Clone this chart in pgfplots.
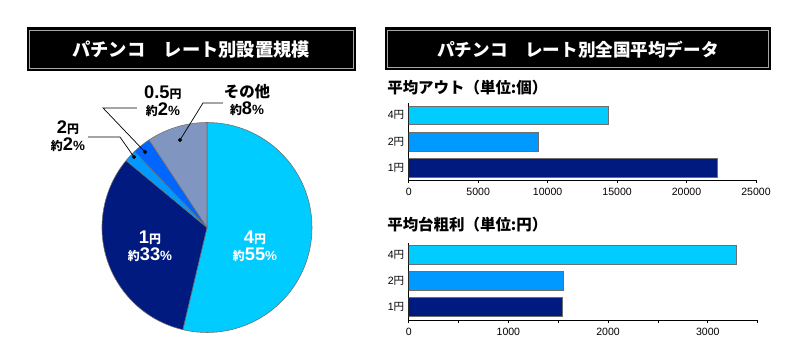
\documentclass[border=0pt]{standalone}
\usepackage{fontspec}
\setmainfont{Noto Sans CJK JP}
\newfontfamily\lat{Liberation Sans}
\usepackage{pgfplots}
\pgfplotsset{compat=1.18}
\usepackage{pgfplotstable}

\definecolor{cFour}{RGB}{0,204,255}
\definecolor{cTwo}{RGB}{0,153,255}
\definecolor{cHalf}{RGB}{0,102,255}
\definecolor{cOne}{RGB}{0,26,128}
\definecolor{cOther}{RGB}{128,150,192}
\definecolor{cEdge}{RGB}{110,110,110}

% pie shares, clockwise from 12 o'clock
\def\pFour{53.7}\def\pOne{32.3}\def\pTwo{1.9}\def\pHalf{2.8}\def\pOther{9.3}

\pgfplotstableread{
y val
0 22200
}\outOne
\pgfplotstableread{
y val
1 9300
}\outTwo
\pgfplotstableread{
y val
2 14400
}\outFour
\pgfplotstableread{
y val
0 1545
}\profOne
\pgfplotstableread{
y val
1 1555
}\profTwo
\pgfplotstableread{
y val
2 3290
}\profFour

\newcommand{\bigtxt}[1]{{\lat\bfseries\fontsize{13}{14}\selectfont #1}}
\newcommand{\sm}[1]{{\bfseries\fontsize{8.5}{9}\selectfont #1}}
\newcommand{\pct}{{\lat\bfseries\fontsize{9.5}{10}\selectfont\%}}

\begin{document}
\begin{tikzpicture}
\useasboundingbox (0,0) rectangle (20cm,9.05cm);

% ---- title boxes
\fill[black] (0.6675cm,7.275cm) rectangle (8.9cm,8.3675cm);
\draw[gray!70, line width=0.5pt] (0.74cm,7.345cm) rectangle (8.83cm,8.295cm);
\node[white, font=\bfseries\fontsize{13}{14}\selectfont] at (4.78cm,7.82cm) {パチンコ　レート別設置規模};

\fill[black] (9.625cm,7.3cm) rectangle (19.27cm,8.3675cm);
\draw[gray!70, line width=0.5pt] (9.695cm,7.37cm) rectangle (19.2cm,8.295cm);
\node[white, font=\bfseries\fontsize{12.5}{14}\selectfont] at (14.45cm,7.82cm) {パチンコ　レート別全国平均データ};

% ---- pie
\pgfmathsetmacro\aA{90}
\pgfmathsetmacro\aB{\aA-3.6*\pFour}
\pgfmathsetmacro\aC{\aB-3.6*\pOne}
\pgfmathsetmacro\aD{\aC-3.6*\pTwo}
\pgfmathsetmacro\aE{\aD-3.6*\pHalf}
\pgfmathsetmacro\aF{\aE-3.6*\pOther}
\begin{axis}[
  at={(1.2375cm,0.475cm)}, anchor=south west,
  scale only axis, width=7.875cm, height=6.694cm,
  xmin=-1.5, xmax=1.5, ymin=-1.1, ymax=1.45,
  hide axis, clip=false]
  \addplot[draw=none] coordinates {(0,0)};
  \filldraw[fill=cFour, draw=cEdge, line width=0.4pt] (axis cs:0,0) -- (axis cs:{cos(\aA)},{sin(\aA)}) arc[start angle=\aA, end angle=\aB, radius=2.625cm] -- cycle;
  \filldraw[fill=cOne, draw=cEdge, line width=0.4pt] (axis cs:0,0) -- (axis cs:{cos(\aB)},{sin(\aB)}) arc[start angle=\aB, end angle=\aC, radius=2.625cm] -- cycle;
  \filldraw[fill=cTwo, draw=cEdge, line width=0.4pt] (axis cs:0,0) -- (axis cs:{cos(\aC)},{sin(\aC)}) arc[start angle=\aC, end angle=\aD, radius=2.625cm] -- cycle;
  \filldraw[fill=cHalf, draw=cEdge, line width=0.4pt] (axis cs:0,0) -- (axis cs:{cos(\aD)},{sin(\aD)}) arc[start angle=\aD, end angle=\aE, radius=2.625cm] -- cycle;
  \filldraw[fill=cOther, draw=cEdge, line width=0.4pt] (axis cs:0,0) -- (axis cs:{cos(\aE)},{sin(\aE)}) arc[start angle=\aE, end angle=\aF, radius=2.625cm] -- cycle;
  % leader lines
  \addplot[black, line width=0.5pt] coordinates {(-0.257,0.833) (-0.038,1.186) (0.152,1.186)};
  \addplot[black, line width=0.5pt] coordinates {(-0.590,0.719) (-0.990,1.138) (-0.667,1.138)};
  \addplot[black, line width=0.5pt] coordinates {(-0.695,0.671) (-0.829,0.862) (-1.133,0.862)};
  \addplot[only marks, mark=*, mark size=1.2pt, black] coordinates {(-0.257,0.833) (-0.590,0.719) (-0.695,0.671)};
  % labels
  \node[inner sep=0pt] at (axis cs:-0.42,1.281) {\bigtxt{0.5}\sm{円}};
  \node[inner sep=0pt] at (axis cs:-0.42,1.119) {\sm{約}\bigtxt{2}\pct};
  \node[inner sep=0pt, font=\bfseries\fontsize{11}{12}\selectfont] at (axis cs:0.381,1.29) {その他};
  \node[inner sep=0pt] at (axis cs:0.381,1.129) {\sm{約}\bigtxt{8}\pct};
  \node[inner sep=0pt] at (axis cs:-1.324,0.948) {\bigtxt{2}\sm{円}};
  \node[inner sep=0pt] at (axis cs:-1.324,0.786) {\sm{約}\bigtxt{2}\pct};
  \node[inner sep=0pt, white] at (axis cs:-0.543,-0.1) {\bigtxt{1}\sm{円}};
  \node[inner sep=0pt, white] at (axis cs:-0.543,-0.262) {\sm{約}\bigtxt{33}\pct};
  \node[inner sep=0pt, white] at (axis cs:0.457,-0.1) {\bigtxt{4}\sm{円}};
  \node[inner sep=0pt, white] at (axis cs:0.457,-0.262) {\sm{約}\bigtxt{55}\pct};
\end{axis}

% ---- subtitles
\node[anchor=west, inner sep=0pt, font=\bfseries\fontsize{11}{12}\selectfont] at (9.675cm,6.85cm) {平均アウト（単位:個）};
\node[anchor=west, inner sep=0pt, font=\bfseries\fontsize{11}{12}\selectfont] at (9.675cm,3.425cm) {平均台粗利（単位:円）};

\pgfplotsset{barstyle/.style={
  scale only axis, axis x line=bottom, axis y line=left,
  axis line style={-, line width=0.7pt},
  xbar, bar shift=0pt, ytick={0,1,2}, yticklabels={{\lat 1}円,{\lat 2}円,{\lat 4}円},
  yticklabel style={font=\fontsize{7.5}{8}\selectfont, inner xsep=1pt},
  xticklabel style={font=\lat\fontsize{7.5}{8}\selectfont},
  /pgf/number format/assume math mode=true,
  /pgf/number format/1000 sep={},
  scaled x ticks=false,
  major tick length=2pt, minor tick length=2pt,
  tick align=outside, tick style={black, line width=0.5pt},
  y tick style={draw=none},
  bar width=0.725, enlargelimits=false}}

\begin{axis}[barstyle,
  at={(10.2175cm,4.55cm)}, anchor=south west,
  width=8.6825cm, height=1.9175cm,
  xmin=0, xmax=25000, ymin=-0.47, ymax=2.46,
  xtick={0,5000,10000,15000,20000,25000}]
  \addplot[draw=cEdge, line width=0.5pt, fill=cOne] table[x=val, y=y] {\outOne};
  \addplot[draw=cEdge, line width=0.5pt, fill=cTwo] table[x=val, y=y] {\outTwo};
  \addplot[draw=cEdge, line width=0.5pt, fill=cFour] table[x=val, y=y] {\outFour};
\end{axis}

\begin{axis}[barstyle,
  at={(10.2175cm,1.05cm)}, anchor=south west,
  width=8.7225cm, height=1.9325cm,
  xmin=0, xmax=3500, ymin=-0.485, ymax=2.47,
  xtick={0,1000,2000,3000}, minor xtick={500,1500,2500,3500}]
  \addplot[draw=cEdge, line width=0.5pt, fill=cOne] table[x=val, y=y] {\profOne};
  \addplot[draw=cEdge, line width=0.5pt, fill=cTwo] table[x=val, y=y] {\profTwo};
  \addplot[draw=cEdge, line width=0.5pt, fill=cFour] table[x=val, y=y] {\profFour};
\end{axis}
\end{tikzpicture}
\end{document}
